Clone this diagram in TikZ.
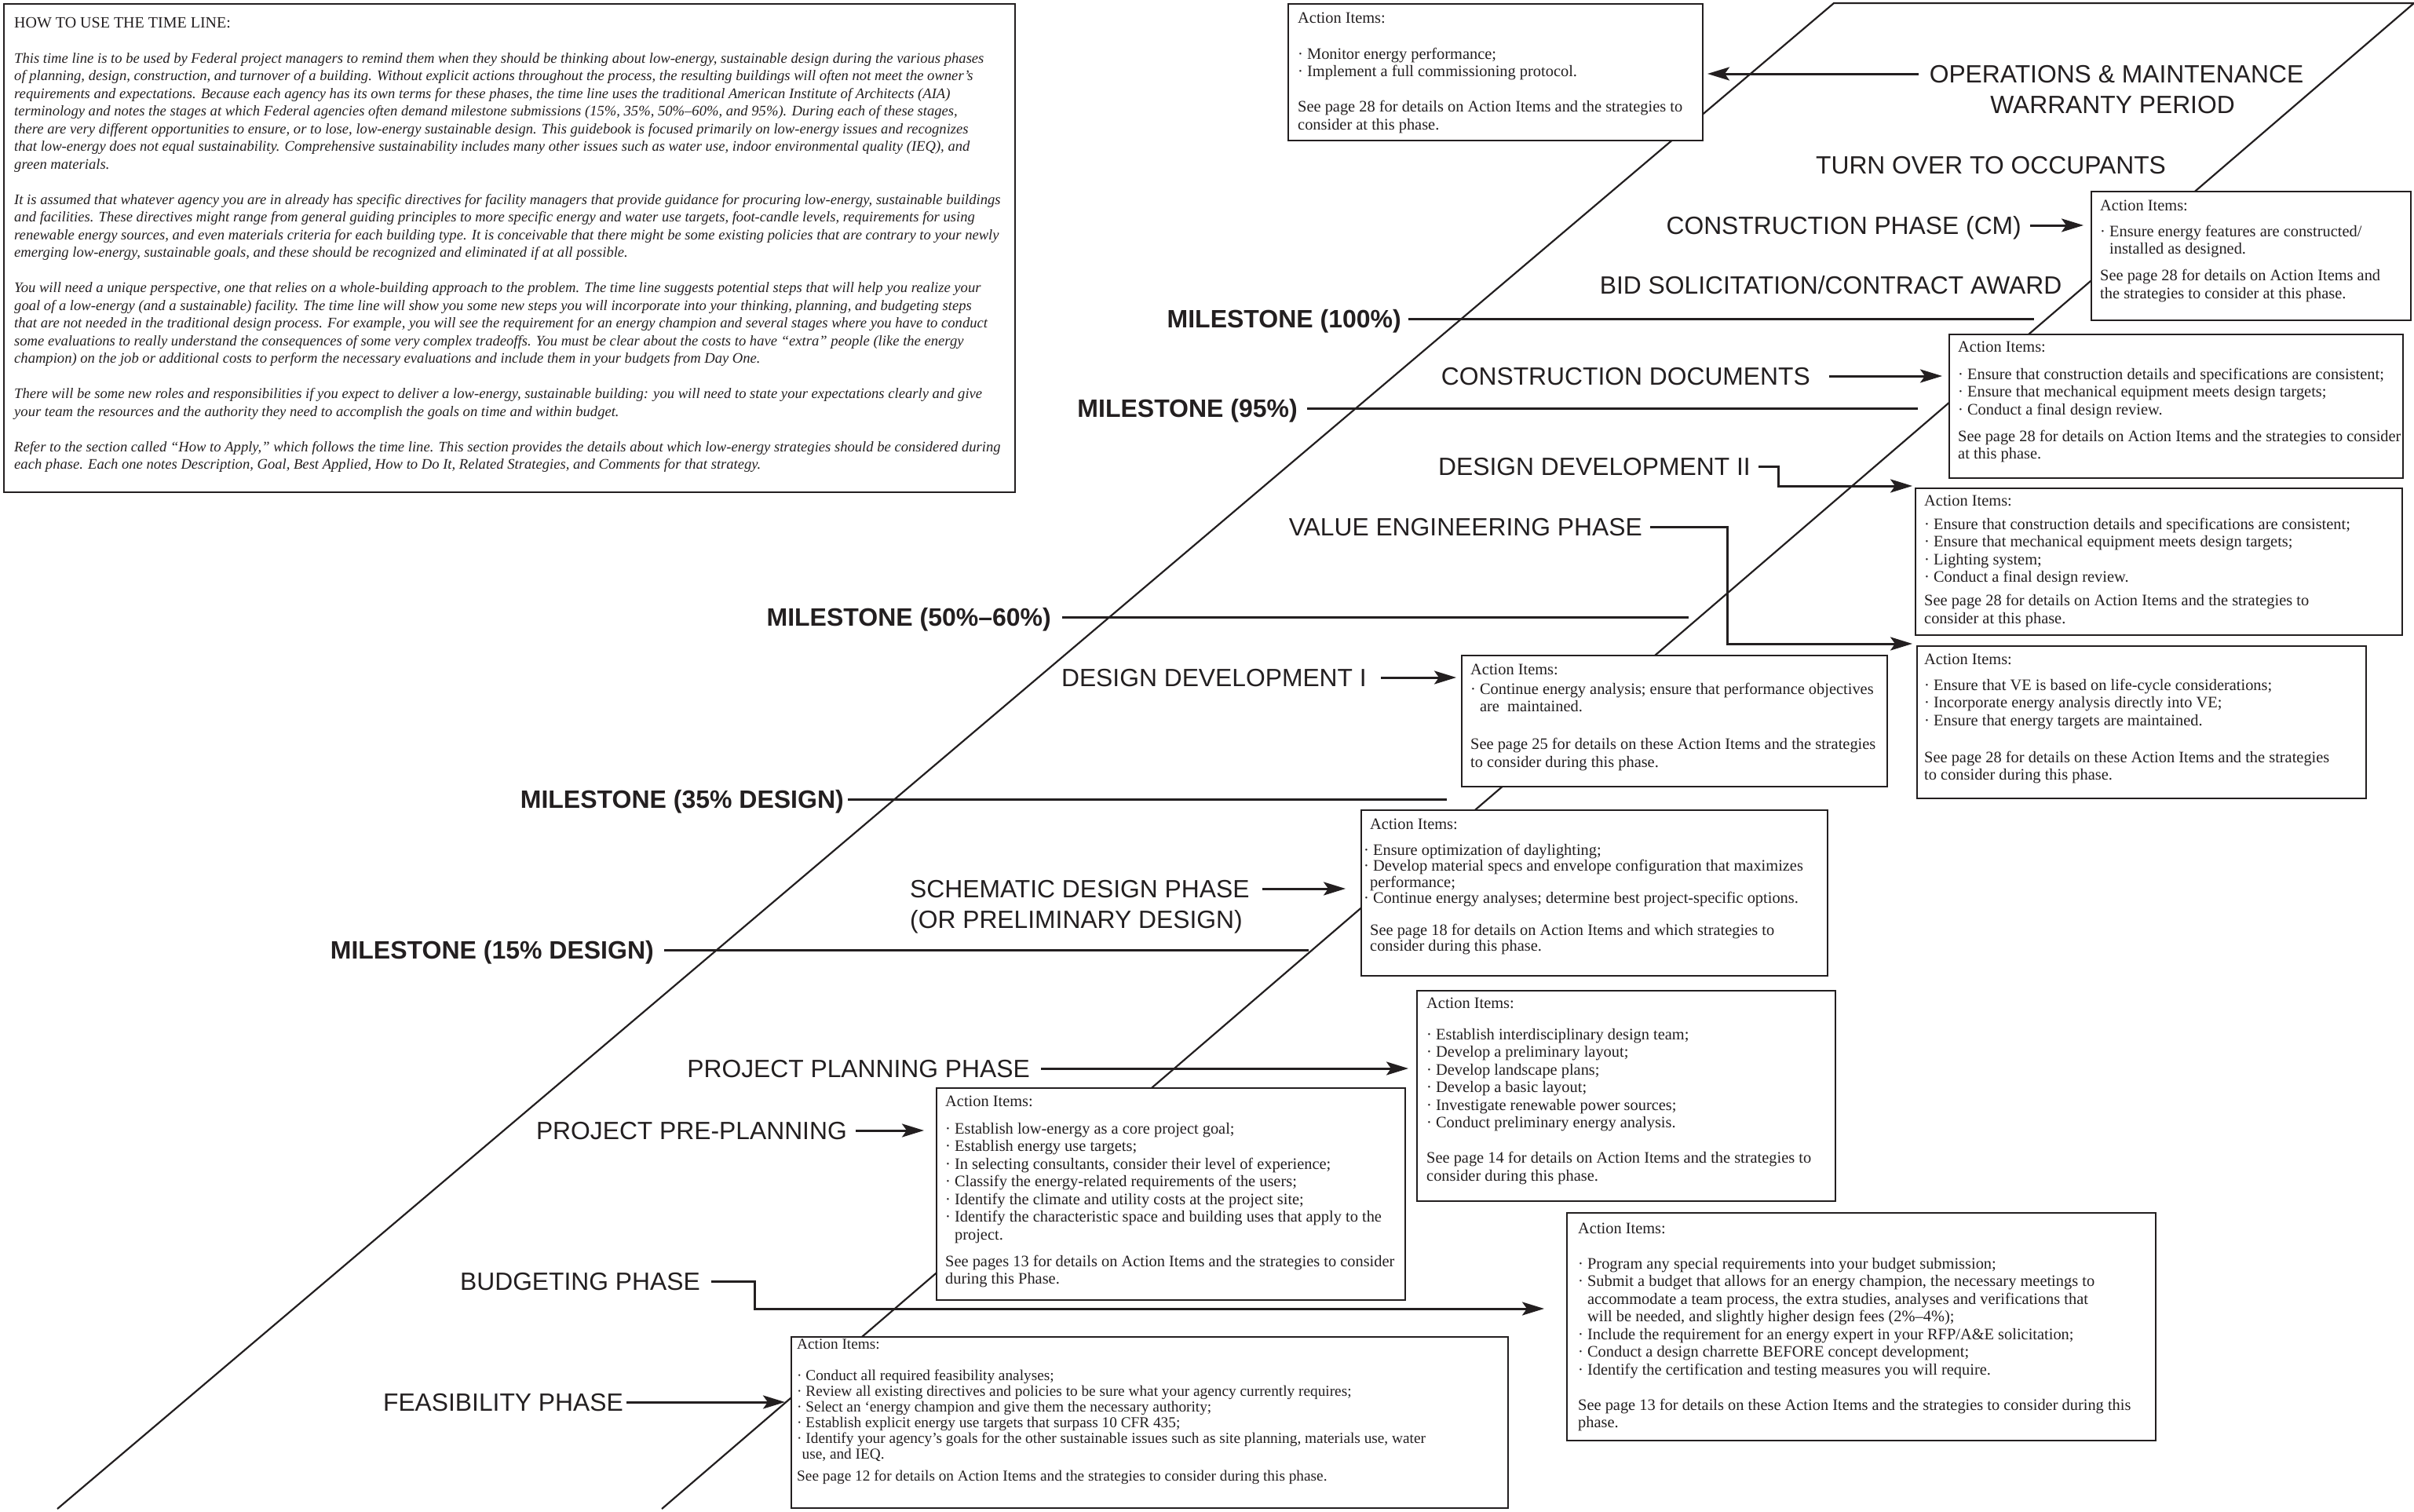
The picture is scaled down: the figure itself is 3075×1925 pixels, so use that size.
\documentclass[tikz,border=0pt]{standalone}
\usepackage{fontspec}
\setmainfont{Liberation Serif}
\newfontfamily\labfont{Liberation Sans}
\usetikzlibrary{arrows.meta}
\definecolor{ink}{HTML}{231F20}
\newcommand{\mkbox}[5]{\node[abox, minimum width={(#4)-(#2)}, minimum height={(#5)-(#3)}] (#1) at ({((#2)+(#4))/2},{((#3)+(#5))/2}) {};}
\begin{document}
\begin{tikzpicture}[x=1pt,y=-1pt,
  band/.style={line width=2.2pt, draw=ink},
  abox/.style={draw=ink, line width=2.6pt, fill=white, inner sep=0pt, outer sep=0pt},
  atext/.style={anchor=north west, inner sep=0pt, align=left, text=ink, font=\fontsize{20.4}{22.5}\selectfont},
  lab/.style={inner sep=0pt, text height=22.8pt, text depth=0pt, text=ink, font=\labfont\fontsize{31.8}{36}\selectfont},
  mlab/.style={lab, font=\labfont\bfseries\fontsize{32}{36}\selectfont},
  arr/.style={line width=3pt, draw=ink, -{Stealth[length=28pt,width=17pt,inset=6pt]}},
  mline/.style={line width=3pt, draw=ink}]
\useasboundingbox (0,0) rectangle (3075,1925);
\fill[white] (0,0) rectangle (3075,1925);

% time-line band
\coordinate (bandA) at (73,1922);
\coordinate (bandB) at (2336,4);
\coordinate (bandC) at (3075,4);
\coordinate (bandD) at (843,1922);
\draw[band] (bandA) -- (bandB) -- (bandC) -- (bandD);

% milestone ends
\coordinate (m100e) at (2591,406);
\coordinate (m95e) at (2443,520);
\coordinate (m50e) at (2151,786);
\coordinate (m35e) at (1843,1018);
\coordinate (m15e) at (1667,1210);

% boxes
\mkbox{howto}{5}{5}{1293}{627}
\mkbox{omb}{1641}{5}{2169}{179}
\mkbox{cmb}{2664}{244}{3071}{408}
\mkbox{cdb}{2483}{426}{3061}{609}
\mkbox{ddtwob}{2440}{622}{3060}{809}
\mkbox{veb}{2442}{823}{3014}{1017}
\mkbox{ddoneb}{1862}{835}{2404}{1002}
\mkbox{sdb}{1734}{1032}{2328}{1243}
\mkbox{ppb}{1805}{1262}{2338}{1530}
\mkbox{pppb}{1193}{1386}{1790}{1656}
\mkbox{budb}{1996}{1545}{2746}{1835}
\mkbox{feab}{1008}{1703}{1921}{1921}

% how-to text
\node[atext, font=\itshape\fontsize{18.6}{22.5}\selectfont] (howtot) at (18,22) {%
{\upshape\fontsize{20}{22.5}\selectfont HOW TO USE THE TIME LINE:}\\[22.5pt]
This time line is to be used by Federal project managers to remind them when they should be thinking about low-energy, sustainable design during the various phases\\
of planning, design, construction, and turnover of a building. Without explicit actions throughout the process, the resulting buildings will often not meet the owner’s\\
requirements and expectations. Because each agency has its own terms for these phases, the time line uses the traditional American Institute of Architects (AIA)\\
terminology and notes the stages at which Federal agencies often demand milestone submissions (15\%, 35\%, 50\%–60\%, and 95\%). During each of these stages,\\
there are very different opportunities to ensure, or to lose, low-energy sustainable design. This guidebook is focused primarily on low-energy issues and recognizes\\
that low-energy does not equal sustainability. Comprehensive sustainability includes many other issues such as water use, indoor environmental quality (IEQ), and\\
green materials.\\[22.5pt]
It is assumed that whatever agency you are in already has specific directives for facility managers that provide guidance for procuring low-energy, sustainable buildings\\
and facilities. These directives might range from general guiding principles to more specific energy and water use targets, foot-candle levels, requirements for using\\
renewable energy sources, and even materials criteria for each building type. It is conceivable that there might be some existing policies that are contrary to your newly\\
emerging low-energy, sustainable goals, and these should be recognized and eliminated if at all possible.\\[22.5pt]
You will need a unique perspective, one that relies on a whole-building approach to the problem. The time line suggests potential steps that will help you realize your\\
goal of a low-energy (and a sustainable) facility. The time line will show you some new steps you will incorporate into your thinking, planning, and budgeting steps\\
that are not needed in the traditional design process. For example, you will see the requirement for an energy champion and several stages where you have to conduct\\
some evaluations to really understand the consequences of some very complex tradeoffs. You must be clear about the costs to have “extra” people (like the energy\\
champion) on the job or additional costs to perform the necessary evaluations and include them in your budgets from Day One.\\[22.5pt]
There will be some new roles and responsibilities if you expect to deliver a low-energy, sustainable building: you will need to state your expectations clearly and give\\
your team the resources and the authority they need to accomplish the goals on time and within budget.\\[22.5pt]
Refer to the section called “How to Apply,” which follows the time line. This section provides the details about which low-energy strategies should be considered during\\
each phase. Each one notes Description, Goal, Best Applied, How to Do It, Related Strategies, and Comments for that strategy.};

% box texts
\node[atext] (omt) at (1653,15.5) {Action Items:\\[23.5pt]
· Monitor energy performance;\\
· Implement a full commissioning protocol.\\[22.5pt]
See page 28 for details on Action Items and the strategies to\\
consider at this phase.};

\node[atext] (cmt) at (2675,254.5) {Action Items:\\[10.5pt]
· Ensure energy features are constructed/\\
\phantom{· }installed as designed.\\[11.5pt]
See page 28 for details on Action Items and\\
the strategies to consider at this phase.};

\node[atext] (cdt) at (2494,434.5) {Action Items:\\[12.5pt]
· Ensure that construction details and specifications are consistent;\\
· Ensure that mechanical equipment meets design targets;\\
· Conduct a final design review.\\[11.5pt]
See page 28 for details on Action Items and the strategies to consider\\
at this phase.};

\node[atext] (ddtwot) at (2451,630.5) {Action Items:\\[7.5pt]
· Ensure that construction details and specifications are consistent;\\
· Ensure that mechanical equipment meets design targets;\\
· Lighting system;\\
· Conduct a final design review.\\[7.5pt]
See page 28 for details on Action Items and the strategies to\\
consider at this phase.};

\node[atext] (vet) at (2451,832.5) {Action Items:\\[10.5pt]
· Ensure that VE is based on life-cycle considerations;\\
· Incorporate energy analysis directly into VE;\\
· Ensure that energy targets are maintained.\\[24.5pt]
See page 28 for details on these Action Items and the strategies\\
to consider during this phase.};

\node[atext] (ddonet) at (1873,845.5) {Action Items:\\[2.5pt]
· Continue energy analysis; ensure that performance objectives\\
\phantom{· }are\ \ maintained.\\[25.5pt]
See page 25 for details on these Action Items and the strategies\\
to consider during this phase.};

\node[atext, font=\fontsize{20.4}{20.5}\selectfont] (sdt) at (1745,1042.5) {Action Items:\\[12.5pt]
\hspace*{-8pt}· Ensure optimization of daylighting;\\
\hspace*{-8pt}· Develop material specs and envelope configuration that maximizes\\
performance;\\
\hspace*{-8pt}· Continue energy analyses; determine best project-specific options.\\[20pt]
See page 18 for details on Action Items and which strategies to\\
consider during this phase.};

\node[atext] (ppt) at (1817,1270.5) {Action Items:\\[17.5pt]
· Establish interdisciplinary design team;\\
· Develop a preliminary layout;\\
· Develop landscape plans;\\
· Develop a basic layout;\\
· Investigate renewable power sources;\\
· Conduct preliminary energy analysis.\\[22.5pt]
See page 14 for details on Action Items and the strategies to\\
consider during this phase.};

\node[atext] (pppt) at (1204,1395.5) {Action Items:\\[12.5pt]
· Establish low-energy as a core project goal;\\
· Establish energy use targets;\\
· In selecting consultants, consider their level of experience;\\
· Classify the energy-related requirements of the users;\\
· Identify the climate and utility costs at the project site;\\
· Identify the characteristic space and building uses that apply to the\\
\phantom{· }project.\\[11.5pt]
See pages 13 for details on Action Items and the strategies to consider\\
during this Phase.};

\node[atext] (budt) at (2010,1557.5) {Action Items:\\[22.5pt]
· Program any special requirements into your budget submission;\\
· Submit a budget that allows for an energy champion, the necessary meetings to\\
\phantom{· }accommodate a team process, the extra studies, analyses and verifications that\\
\phantom{· }will be needed, and slightly higher design fees (2\%–4\%);\\
· Include the requirement for an energy expert in your RFP/A\&E solicitation;\\
· Conduct a design charrette BEFORE concept development;\\
· Identify the certification and testing measures you will require.\\[22.5pt]
See page 13 for details on these Action Items and the strategies to consider during this\\
phase.};

\node[atext, font=\fontsize{19.3}{20}\selectfont] (feat) at (1015,1705.5) {Action Items:\\[20pt]
· Conduct all required feasibility analyses;\\
· Review all existing directives and policies to be sure what your agency currently requires;\\
· Select an ‘energy champion and give them the necessary authority;\\
· Establish explicit energy use targets that surpass 10 CFR 435;\\
· Identify your agency’s goals for the other sustainable issues such as site planning, materials use, water\\
\phantom{·}use, and IEQ.\\[8pt]
See page 12 for details on Action Items and the strategies to consider during this phase.};

% phase labels
\node[lab] (omone) at (2696,94) {OPERATIONS \& MAINTENANCE};
\node[lab] (omtwo) at (2691,133) {WARRANTY PERIOD};
\node[lab] (turn) at (2536,210) {TURN OVER TO OCCUPANTS};
\node[lab, anchor=east] (cm) at (2575,287) {CONSTRUCTION PHASE (CM)};
\node[lab] (bid) at (2332,363) {BID SOLICITATION/CONTRACT AWARD};
\node[lab, anchor=east] (cd) at (2306,479) {CONSTRUCTION DOCUMENTS};
\node[lab, anchor=east] (ddtwo) at (2230,594) {DESIGN DEVELOPMENT II};
\node[lab, anchor=east] (ve) at (2092,671) {VALUE ENGINEERING PHASE};
\node[lab, anchor=east] (ddone) at (1741,863) {DESIGN DEVELOPMENT I};
\node[lab, anchor=west] (sdone) at (1159,1132) {SCHEMATIC DESIGN PHASE};
\node[lab, anchor=west] (sdtwo) at (1159,1171) {(OR PRELIMINARY DESIGN)};
\node[lab, anchor=east] (pp) at (1312,1361) {PROJECT PLANNING PHASE};
\node[lab, anchor=east] (ppp) at (1079,1440) {PROJECT PRE-PLANNING};
\node[lab, anchor=east] (bud) at (892,1632) {BUDGETING PHASE};
\node[lab, anchor=east] (fea) at (794,1786) {FEASIBILITY PHASE};

% milestones
\node[mlab, anchor=east] (mhundred) at (1785,406) {MILESTONE (100\%)};
\node[mlab, anchor=east] (mninetyfive) at (1653,520) {MILESTONE (95\%)};
\node[mlab, anchor=east] (mfifty) at (1339,786) {MILESTONE (50\%–60\%)};
\node[mlab, anchor=east] (mthirtyfive) at (1075,1018) {MILESTONE (35\% DESIGN)};
\node[mlab, anchor=east] (mfifteen) at (833,1210) {MILESTONE (15\% DESIGN)};

\draw[mline, shorten <=9pt] (mhundred.east) -- (mhundred.east -| m100e);
\draw[mline, shorten <=12pt] (mninetyfive.east) -- (mninetyfive.east -| m95e);
\draw[mline, shorten <=14pt] (mfifty.east) -- (mfifty.east -| m50e);
\draw[mline, shorten <=5pt] (mthirtyfive.east) -- (mthirtyfive.east -| m35e);
\draw[mline, shorten <=13pt] (mfifteen.east) -- (mfifteen.east -| m15e);

% arrows
\draw[arr, shorten <=14pt, shorten >=6pt] (omone.west) -- (omone.west -| omb.east);
\draw[arr, shorten <=11pt, shorten >=10pt] (cm.east) -- (cm.east -| cmb.west);
\draw[arr, shorten <=24pt, shorten >=9pt] (cd.east) -- (cd.east -| cdb.west);
\draw[arr, shorten <=18pt, shorten >=7pt] (ddone.east) -- (ddone.east -| ddoneb.west);
\draw[arr, shorten <=16pt, shorten >=20pt] (sdone.east) -- (sdone.east -| sdb.west);
\draw[arr, shorten <=14pt, shorten >=11pt] (pp.east) -- (pp.east -| ppb.west);
\draw[arr, shorten <=11pt, shorten >=16pt] (ppp.east) -- (ppp.east -| pppb.west);
\draw[arr, shorten <=4pt, shorten >=8pt] (fea.east) -- (fea.east -| feab.west);
\draw[arr] ([xshift=10pt]ddtwo.east) -- ++(25,0) |- ([xshift=-4pt,yshift=3pt]ddtwob.north west);
\draw[arr] ([xshift=10pt]ve.east) -- ++(98,0) |- ([xshift=-6pt,yshift=3pt]veb.north west);
\draw[arr] ([xshift=14pt]bud.east) -- ++(55,0) |- ([xshift=-29pt,yshift=23pt]budb.west);
\end{tikzpicture}
\end{document}
